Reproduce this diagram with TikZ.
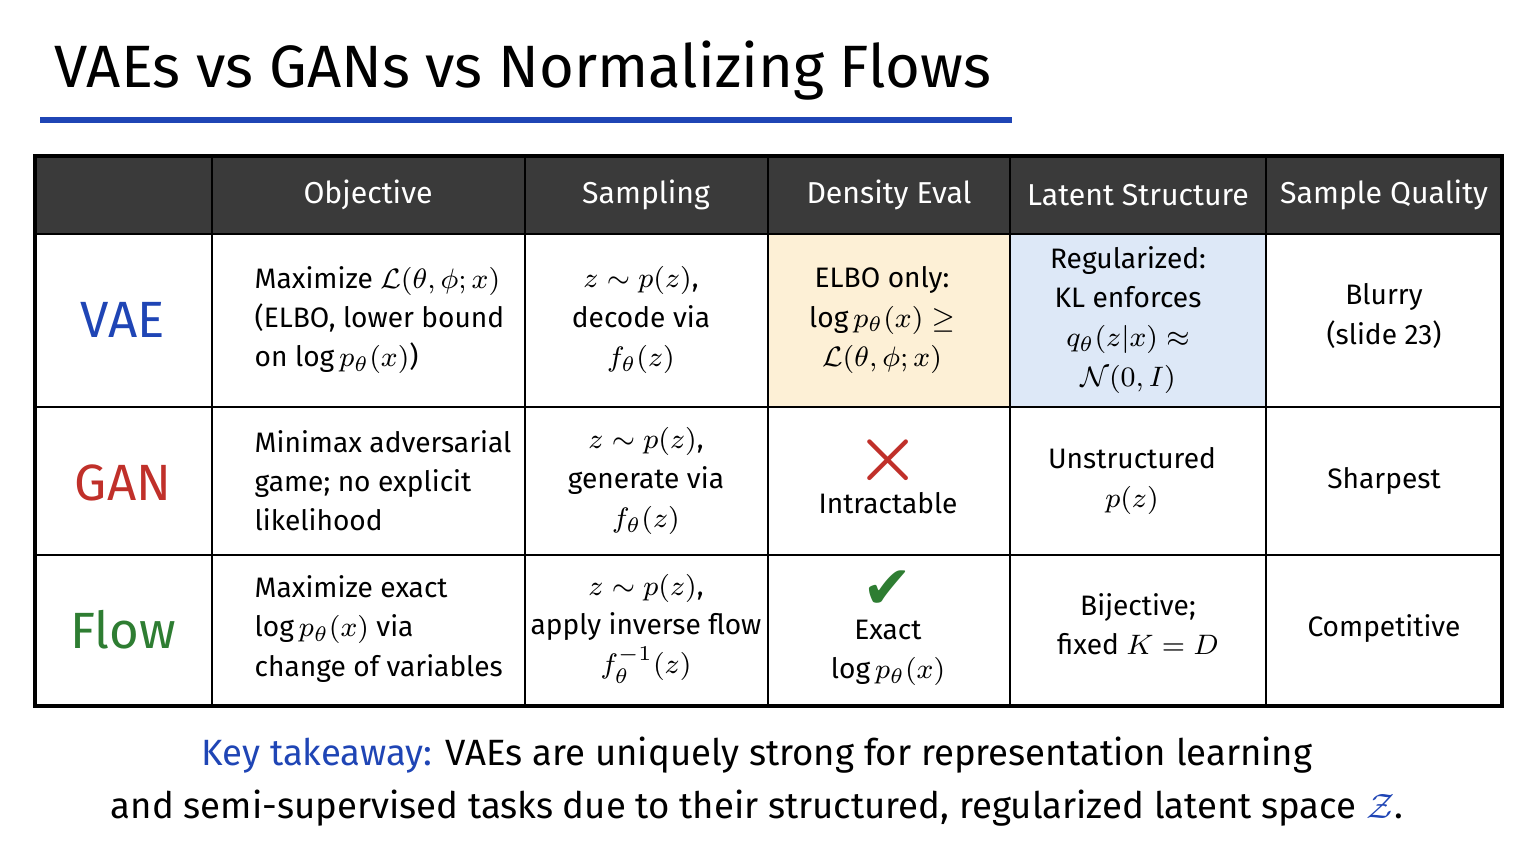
\documentclass[tikz,border=0pt]{standalone}
\usepackage{fontspec}
\usepackage{amsmath,amssymb}
\setmainfont{Fira Sans}
\definecolor{headgray}{HTML}{3A3A3A}
\definecolor{vaeblue}{HTML}{1F45B5}
\definecolor{ganred}{HTML}{C0302A}
\definecolor{flowgreen}{HTML}{2E7D32}
\definecolor{cellyellow}{HTML}{FDF0D6}
\definecolor{cellblue}{HTML}{DDE8F7}
\begin{document}
\begin{tikzpicture}[
x=0.01cm, y=-0.01cm,
cell/.style={
    align=center,
    font=\fontsize{8}{11.1}\selectfont,
    inner sep=0pt
    },
lcell/.style={
    cell,
    align=left
    },
head/.style={
    cell,
    text=white,
    font=\fontsize{8.6}{11}\selectfont
    },
rowlab/.style={
    font=\fontsize{14.5}{18}\selectfont
    },
]
\useasboundingbox (0,0) rectangle (1536,864);
% title
\node[anchor=base west, font=\fontsize{17}{22}\selectfont] (title) at (42,88) {VAEs vs GANs vs Normalizing Flows};
\draw[vaeblue, line width=1.6pt] (40,120) -- (1012,120);
% fills
\fill[headgray] (35,156) rectangle (1502,234);
\fill[cellyellow] (768,234) rectangle (1010,407);
\fill[cellblue] (1010,234) rectangle (1266,407);
% grid
\foreach \yy in {234,407,555}
    \draw[line width=0.8pt] (35,\yy) -- (1502,\yy);
\foreach \xx in {212,525,768,1010,1266}
    \draw[line width=0.8pt] (\xx,156) -- (\xx,706);
\draw[line width=1pt] (35,156) rectangle (1502,706);
% header
\node[head] (hobj) at (368,195) {Objective};
\node[head] (hsam) at (646,195) {Sampling};
\node[head] (hden) at (889,195) {Density Eval};
\node[head] (hlat) at (1138,195) {Latent Structure};
\node[head] (hqual) at (1384,195) {Sample Quality};
% row labels
\node[rowlab, text=vaeblue] (lvae) at (123,320) {VAE};
\node[rowlab, text=ganred] (lgan) at (123,483) {GAN};
\node[rowlab, text=flowgreen] (lflow) at (123,630) {Flow};
% VAE row
\node[lcell, anchor=west] (vobj) at (254,320) {Maximize $\mathcal{L}(\theta,\phi;x)$\\(ELBO, lower bound\\on $\log p_\theta(x)$)};
\node[cell] (vsam) at (641,320) {$z\sim p(z)$,\\decode via\\$f_\theta(z)$};
\node[cell] (vden) at (882,320) {ELBO only:\\$\log p_\theta(x)\geq$\\$\mathcal{L}(\theta,\phi;x)$};
\node[cell] (vlat) at (1128,320) {Regularized:\\KL enforces\\$q_\theta(z|x)\approx$\\$\mathcal{N}(0,I)$};
\node[cell] (vqual) at (1384,316) {Blurry\\(slide 23)};
% GAN row
\node[lcell, anchor=west] (gobj) at (254,481) {Minimax adversarial\\game; no explicit\\likelihood};
\node[cell] (gsam) at (646,481) {$z\sim p(z)$,\\generate via\\$f_\theta(z)$};
\node[text=ganred, font=\fontsize{22}{22}\selectfont\bfseries] (gx) at (888,460) {$\boldsymbol{\times}$};
\node[cell] (gden) at (888,503) {Intractable};
\node[cell] (glat) at (1132,481) {Unstructured\\$p(z)$};
\node[cell] (gqual) at (1384,481) {Sharpest};
% Flow row
\node[lcell, anchor=west] (fobj) at (254,629) {Maximize exact\\$\log p_\theta(x)$ via\\change of variables};
\node[cell] (fsam) at (646,629) {$z\sim p(z)$,\\apply inverse flow\\$f_\theta^{-1}(z)$};
\node[text=flowgreen, font=\fontsize{17}{17}\selectfont] (fck) at (888,590) {\fontspec{DejaVu Sans}✔};
\node[cell] (fden) at (888,653) {Exact\\$\log p_\theta(x)$};
\node[cell] (flat) at (1138,624) {Bijective;\\fixed $K=D$};
\node[cell] (fqual) at (1384,629) {Competitive};
% takeaway
\node[align=center, font=\fontsize{10.4}{15}\selectfont] (note) at (757,782)
    {{\color{vaeblue}Key takeaway:} VAEs are uniquely strong for representation learning\\
     and semi-supervised tasks due to their structured, regularized latent space {\color{vaeblue}$\mathcal{Z}$}.};
\end{tikzpicture}
\end{document}
